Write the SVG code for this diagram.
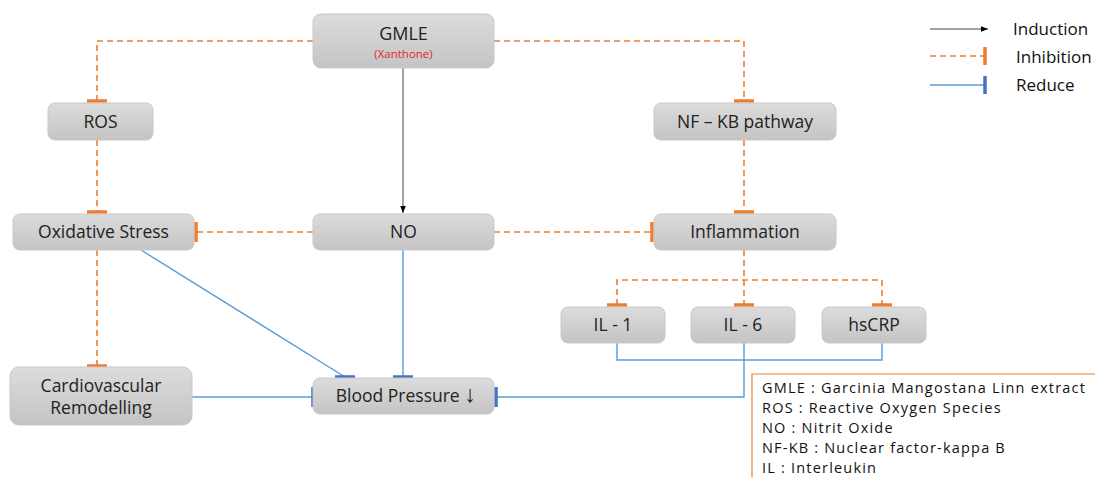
<svg xmlns="http://www.w3.org/2000/svg" width="1095" height="477" viewBox="0 0 1095 477">
<defs>
<linearGradient id="g" x1="0" y1="0" x2="0" y2="1"><stop offset="0" stop-color="#dcdcdc"/><stop offset="1" stop-color="#c4c4c4"/></linearGradient>
<marker id="arr" viewBox="0 0 10 10" refX="10" refY="5" markerWidth="7" markerHeight="7" orient="auto" markerUnits="userSpaceOnUse"><path d="M0,1 L10,5 L0,9 z" fill="#000"/></marker>
<style>
.box{fill:url(#g);stroke:#c8c8c8;stroke-width:1}
.t{font-family:"Open Sans",sans-serif;font-size:17.5px;fill:#222;text-anchor:middle}
.inh{fill:none;stroke:#ED7D31;stroke-width:1.6;stroke-dasharray:6,4}
.ib{stroke:#ED7D31;stroke-width:3.5}
.red{fill:none;stroke:#5B9BD5;stroke-width:1.4}
.rb{stroke:#4472C4;stroke-width:3.5}
.ind{stroke:#444;stroke-width:1}
.leg{font-family:"Open Sans",sans-serif;font-size:17px;fill:#111}
.ab{font-family:"Open Sans",sans-serif;font-size:14.5px;letter-spacing:1.2px;fill:#111}
</style>
</defs>
<rect width="1095" height="477" fill="#fff"/>
<g id="connectors">
<polyline class="inh" points="313,41 97,41 97,101"/>
<line class="ib" x1="87" y1="101" x2="107" y2="101"/>
<polyline class="inh" points="494,41 744,41 744,101"/>
<line class="ib" x1="734" y1="101" x2="754" y2="101"/>
<line class="ind" x1="403" y1="68" x2="403" y2="213" marker-end="url(#arr)"/>
<line class="inh" x1="97" y1="140" x2="97" y2="212"/>
<line class="ib" x1="87" y1="212" x2="107" y2="212"/>
<line class="inh" x1="744" y1="140" x2="744" y2="212"/>
<line class="ib" x1="734" y1="212" x2="754" y2="212"/>
<line class="inh" x1="313" y1="232" x2="196" y2="232"/>
<line class="ib" x1="196" y1="222" x2="196" y2="242"/>
<line class="inh" x1="494" y1="232" x2="652" y2="232"/>
<line class="ib" x1="652" y1="222" x2="652" y2="242"/>
<polyline class="inh" points="744,250 744,305"/>
<polyline class="inh" points="617,305 617,280 882,280 882,305"/>
<line class="ib" x1="607" y1="305" x2="627" y2="305"/>
<line class="ib" x1="734" y1="305" x2="754" y2="305"/>
<line class="ib" x1="872" y1="305" x2="892" y2="305"/>
<line class="inh" x1="97" y1="250" x2="97" y2="365"/>
<line class="ib" x1="87" y1="366" x2="107" y2="366"/>
<line class="red" x1="141" y1="250" x2="345" y2="377"/>
<line class="rb" x1="335" y1="377" x2="355" y2="377"/>
<line class="red" x1="403" y1="250" x2="403" y2="377"/>
<line class="rb" x1="393" y1="377" x2="413" y2="377"/>
<line class="red" x1="192" y1="397" x2="313" y2="397"/>
<line class="rb" x1="313" y1="387" x2="313" y2="407"/>
<polyline class="red" points="617,343 617,360 882,360 882,343"/>
<polyline class="red" points="744,343 744,397 496,397"/>
<line class="rb" x1="496" y1="387" x2="496" y2="407"/>
</g>
<g id="gmle"><rect class="box" x="313" y="14" width="181" height="54" rx="8"/><text class="t" x="403.5" y="40" style="font-size:18px">GMLE</text><text class="t" x="403.5" y="58" style="font-size:11.5px;fill:#e8262b">(Xanthone)</text></g>
<g id="ros"><rect class="box" x="48" y="103" width="105" height="37" rx="7"/><text class="t" x="100.5" y="128">ROS</text></g>
<g id="nfkb"><rect class="box" x="654" y="103" width="182" height="37" rx="7"/><text class="t" x="745" y="128">NF – KB pathway</text></g>
<g id="oxidative"><rect class="box" x="13" y="214" width="181" height="36" rx="7"/><text class="t" x="103.5" y="238">Oxidative Stress</text></g>
<g id="no"><rect class="box" x="313" y="214" width="181" height="36" rx="7"/><text class="t" x="403.5" y="238">NO</text></g>
<g id="inflammation"><rect class="box" x="654" y="214" width="182" height="36" rx="7"/><text class="t" x="745" y="238">Inflammation</text></g>
<g id="il1"><rect class="box" x="561" y="307" width="104" height="36" rx="7"/><text class="t" x="613" y="331">IL - 1</text></g>
<g id="il6"><rect class="box" x="691" y="307" width="104" height="36" rx="7"/><text class="t" x="743" y="331">IL - 6</text></g>
<g id="hscrp"><rect class="box" x="822" y="307" width="104" height="36" rx="7"/><text class="t" x="874" y="331">hsCRP</text></g>
<g id="cardio"><rect class="box" x="10" y="367" width="182" height="58" rx="9"/><text class="t" x="101" y="392">Cardiovascular</text><text class="t" x="101" y="414">Remodelling</text></g>
<g id="bp"><rect class="box" x="313" y="378" width="181" height="36" rx="7"/><text class="t" x="406" y="402">Blood Pressure <tspan style="font-size:24px">↓</tspan></text></g>
<g id="legend">
<line class="ind" x1="930" y1="29" x2="988" y2="29" marker-end="url(#arr)"/>
<text class="leg" x="1013" y="35">Induction</text>
<line class="inh" x1="930" y1="56" x2="985" y2="56"/>
<line class="ib" x1="985" y1="47" x2="985" y2="65"/>
<text class="leg" x="1016" y="63">Inhibition</text>
<line class="red" x1="930" y1="85" x2="985" y2="85"/>
<line class="rb" x1="985" y1="76" x2="985" y2="94"/>
<text class="leg" x="1016" y="91">Reduce</text>
</g>
<g id="abbrev">
<polyline points="752,477 752,374 1095,374" fill="none" stroke="#ED7D31" stroke-width="1.2"/>
<text class="ab" x="762" y="393">GMLE : Garcinia Mangostana Linn extract</text>
<text class="ab" x="762" y="413">ROS : Reactive Oxygen Species</text>
<text class="ab" x="762" y="433">NO : Nitrit Oxide</text>
<text class="ab" x="762" y="453">NF-KB : Nuclear factor-kappa B</text>
<text class="ab" x="762" y="473">IL : Interleukin</text>
</g>
</svg>
